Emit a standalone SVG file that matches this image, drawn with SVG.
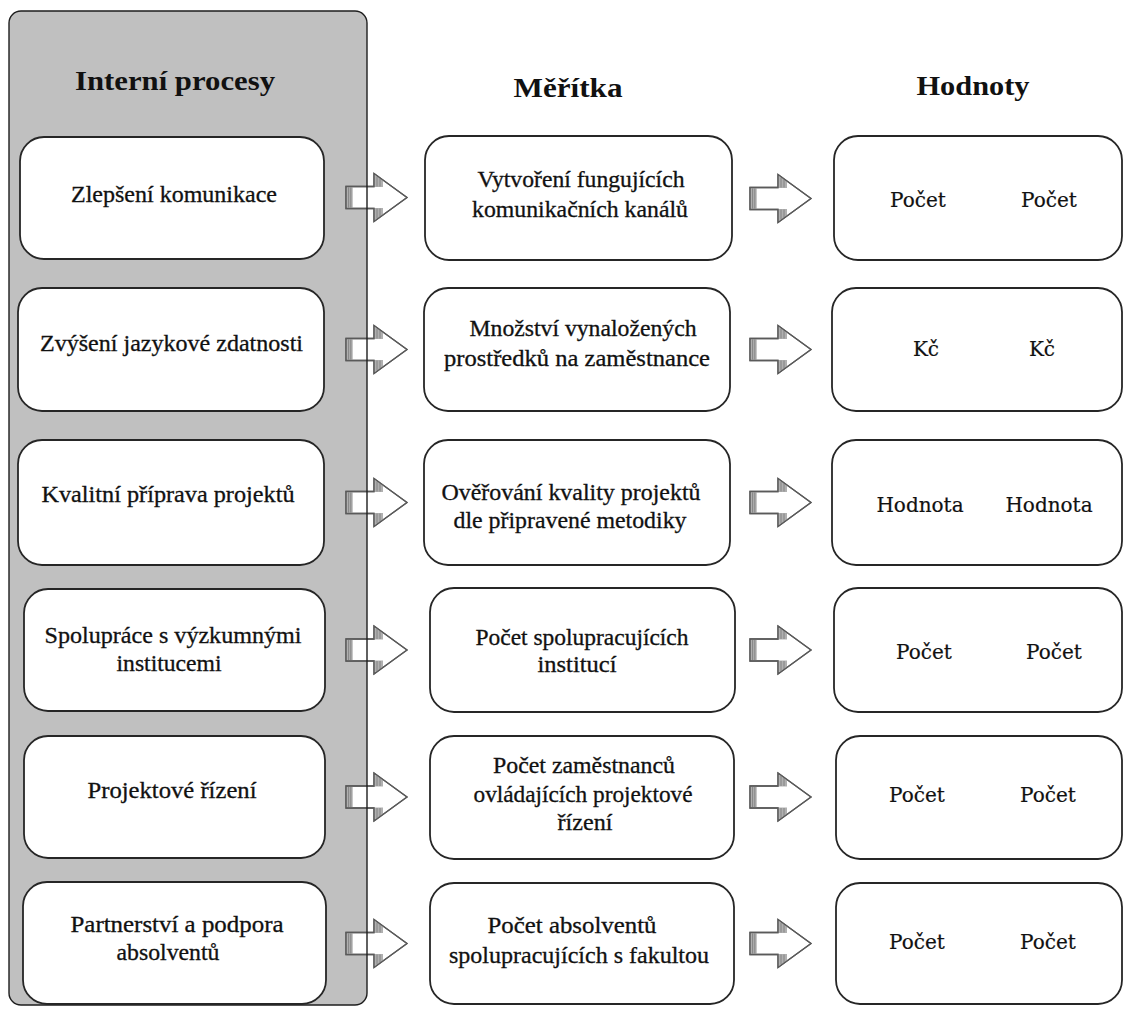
<svg xmlns="http://www.w3.org/2000/svg" xmlns:xlink="http://www.w3.org/1999/xlink" width="1128" height="1010" viewBox="0 0 1128 1010">
  <style>
    .panel { fill: #c0c0c0; }
    .panel-edge { fill: none; stroke: #1e1e1e; stroke-width: 1.4; }
    .box { fill: #ffffff; stroke: #262626; stroke-width: 1.8; }
    .head { font-family: 'Liberation Serif', serif; font-weight: bold; font-size: 28px; fill: #111; text-anchor: middle; }
    .lbl { font-family: 'Liberation Serif', serif; font-size: 23px; fill: #111; stroke: #111; stroke-width: 0.3; text-anchor: middle; }
    .val { font-family: 'DejaVu Serif', serif; font-size: 20px; fill: #111; stroke: #111; stroke-width: 0.2; text-anchor: middle; }
  </style>
  <defs>
    <!-- striped block arrow, tail at origin, pointing right -->
    <g id="arrow">
      <path d="M0,-11 H28 V-24 L61,0 L28,24 V11 H0 Z" fill="#ffffff" stroke="#5a5a5a" stroke-width="1.3"/>
      <rect x="0.7" y="-10.3" width="6" height="20.6" fill="#b0b0b0"/>
      <path d="M2.6,-10 V10 M4.8,-10 V10" stroke="#7a7a7a" stroke-width="0.8"/>
      <polygon points="28.7,-22.6 37,-17.4 37,-10.4 28.7,-10.4" fill="#b0b0b0"/>
      <polygon points="28.7,22.6 37,17.4 37,10.4 28.7,10.4" fill="#b0b0b0"/>
      <path d="M31,-21 V-11 M34,-19.2 V-11 M31,11 V21 M34,11 V19.2" stroke="#7a7a7a" stroke-width="0.8"/>
      <path d="M0,-11 H28 V-24 L61,0 L28,24 V11 H0 Z" fill="none" stroke="#5a5a5a" stroke-width="1.3"/>
    </g>
  </defs>

  <rect width="1128" height="1010" fill="#ffffff"/>

  <!-- shaded column behind the internal processes -->
  <rect class="panel" x="9" y="11" width="358" height="994" rx="12"/>

  <!-- column headings -->
  <text class="head" x="175" y="90" textLength="200" lengthAdjust="spacingAndGlyphs">Interní procesy</text>
  <text class="head" x="568" y="97" textLength="109" lengthAdjust="spacingAndGlyphs">Měřítka</text>
  <text class="head" x="973" y="95" textLength="113" lengthAdjust="spacingAndGlyphs">Hodnoty</text>

  <!-- connectors: block arrows between the columns -->
  <g id="connectors">
    <use xlink:href="#arrow" href="#arrow" x="346" y="197.5"/>
    <use xlink:href="#arrow" href="#arrow" x="346" y="349.5"/>
    <use xlink:href="#arrow" href="#arrow" x="346" y="502.5"/>
    <use xlink:href="#arrow" href="#arrow" x="346" y="650"/>
    <use xlink:href="#arrow" href="#arrow" x="346" y="797"/>
    <use xlink:href="#arrow" href="#arrow" x="346" y="943.5"/>
    <use xlink:href="#arrow" href="#arrow" x="750" y="198.5"/>
    <use xlink:href="#arrow" href="#arrow" x="750" y="349.5"/>
    <use xlink:href="#arrow" href="#arrow" x="750" y="502.5"/>
    <use xlink:href="#arrow" href="#arrow" x="750" y="650"/>
    <use xlink:href="#arrow" href="#arrow" x="750" y="797"/>
    <use xlink:href="#arrow" href="#arrow" x="750" y="943.5"/>
  </g>

  <!-- panel outline drawn over the arrow tails -->
  <rect class="panel-edge" x="9" y="11" width="358" height="994" rx="12"/>

  <!-- internal processes -->
  <g id="p1">
    <rect class="box" x="20" y="137" width="304" height="122" rx="24"/>
    <text class="lbl" x="174" y="202" textLength="206" lengthAdjust="spacingAndGlyphs">Zlepšení komunikace</text>
  </g>
  <g id="p2">
    <rect class="box" x="18" y="288" width="306" height="123" rx="24"/>
    <text class="lbl" x="171.5" y="351" textLength="263" lengthAdjust="spacingAndGlyphs">Zvýšení jazykové zdatnosti</text>
  </g>
  <g id="p3">
    <rect class="box" x="18" y="440" width="306" height="125" rx="24"/>
    <text class="lbl" x="168" y="502" textLength="253" lengthAdjust="spacingAndGlyphs">Kvalitní příprava projektů</text>
  </g>
  <g id="p4">
    <rect class="box" x="24" y="589" width="301" height="122" rx="24"/>
    <text class="lbl" x="173" y="643" textLength="257" lengthAdjust="spacingAndGlyphs">Spolupráce s výzkumnými</text>
    <text class="lbl" x="169" y="671" textLength="105" lengthAdjust="spacingAndGlyphs">institucemi</text>
  </g>
  <g id="p5">
    <rect class="box" x="24" y="736" width="301" height="122" rx="24"/>
    <text class="lbl" x="172" y="798" textLength="169" lengthAdjust="spacingAndGlyphs">Projektové řízení</text>
  </g>
  <g id="p6">
    <rect class="box" x="23" y="882" width="303" height="122" rx="24"/>
    <text class="lbl" x="177" y="932" textLength="213" lengthAdjust="spacingAndGlyphs">Partnerství a podpora</text>
    <text class="lbl" x="168" y="960" textLength="103" lengthAdjust="spacingAndGlyphs">absolventů</text>
  </g>

  <!-- measures -->
  <g id="m1">
    <rect class="box" x="425" y="136" width="307" height="124" rx="24"/>
    <text class="lbl" x="581" y="187" textLength="207" lengthAdjust="spacingAndGlyphs">Vytvoření fungujících</text>
    <text class="lbl" x="580" y="217" textLength="216" lengthAdjust="spacingAndGlyphs">komunikačních kanálů</text>
  </g>
  <g id="m2">
    <rect class="box" x="424" y="288" width="306" height="123" rx="24"/>
    <text class="lbl" x="583" y="336" textLength="227" lengthAdjust="spacingAndGlyphs">Množství vynaložených</text>
    <text class="lbl" x="577" y="366" textLength="266" lengthAdjust="spacingAndGlyphs">prostředků na zaměstnance</text>
  </g>
  <g id="m3">
    <rect class="box" x="424" y="440" width="306" height="125" rx="24"/>
    <text class="lbl" x="571" y="500" textLength="259" lengthAdjust="spacingAndGlyphs">Ověřování kvality projektů</text>
    <text class="lbl" x="570" y="528" textLength="233" lengthAdjust="spacingAndGlyphs">dle připravené metodiky</text>
  </g>
  <g id="m4">
    <rect class="box" x="430" y="588" width="305" height="124" rx="24"/>
    <text class="lbl" x="582" y="645" textLength="213" lengthAdjust="spacingAndGlyphs">Počet spolupracujících</text>
    <text class="lbl" x="577" y="672" textLength="79" lengthAdjust="spacingAndGlyphs">institucí</text>
  </g>
  <g id="m5">
    <rect class="box" x="430" y="736" width="304" height="123" rx="24"/>
    <text class="lbl" x="584" y="773" textLength="182" lengthAdjust="spacingAndGlyphs">Počet zaměstnanců</text>
    <text class="lbl" x="583" y="802" textLength="219" lengthAdjust="spacingAndGlyphs">ovládajících projektové</text>
    <text class="lbl" x="585" y="830" textLength="55" lengthAdjust="spacingAndGlyphs">řízení</text>
  </g>
  <g id="m6">
    <rect class="box" x="430" y="883" width="304" height="121" rx="24"/>
    <text class="lbl" x="572" y="933" textLength="169" lengthAdjust="spacingAndGlyphs">Počet absolventů</text>
    <text class="lbl" x="579" y="963" textLength="260" lengthAdjust="spacingAndGlyphs">spolupracujících s fakultou</text>
  </g>

  <!-- values -->
  <g id="v1">
    <rect class="box" x="834" y="136" width="288" height="124" rx="24"/>
    <text class="val" x="918" y="207">Počet</text>
    <text class="val" x="1049" y="207">Počet</text>
  </g>
  <g id="v2">
    <rect class="box" x="832" y="288" width="290" height="123" rx="24"/>
    <text class="val" x="926" y="356">Kč</text>
    <text class="val" x="1042" y="356">Kč</text>
  </g>
  <g id="v3">
    <rect class="box" x="832" y="440" width="290" height="125" rx="24"/>
    <text class="val" x="920" y="512">Hodnota</text>
    <text class="val" x="1049" y="512">Hodnota</text>
  </g>
  <g id="v4">
    <rect class="box" x="834" y="588" width="288" height="124" rx="24"/>
    <text class="val" x="924" y="659">Počet</text>
    <text class="val" x="1054" y="659">Počet</text>
  </g>
  <g id="v5">
    <rect class="box" x="836" y="736" width="286" height="123" rx="24"/>
    <text class="val" x="917" y="802">Počet</text>
    <text class="val" x="1048" y="802">Počet</text>
  </g>
  <g id="v6">
    <rect class="box" x="836" y="883" width="286" height="121" rx="24"/>
    <text class="val" x="917" y="949">Počet</text>
    <text class="val" x="1048" y="949">Počet</text>
  </g>
</svg>
